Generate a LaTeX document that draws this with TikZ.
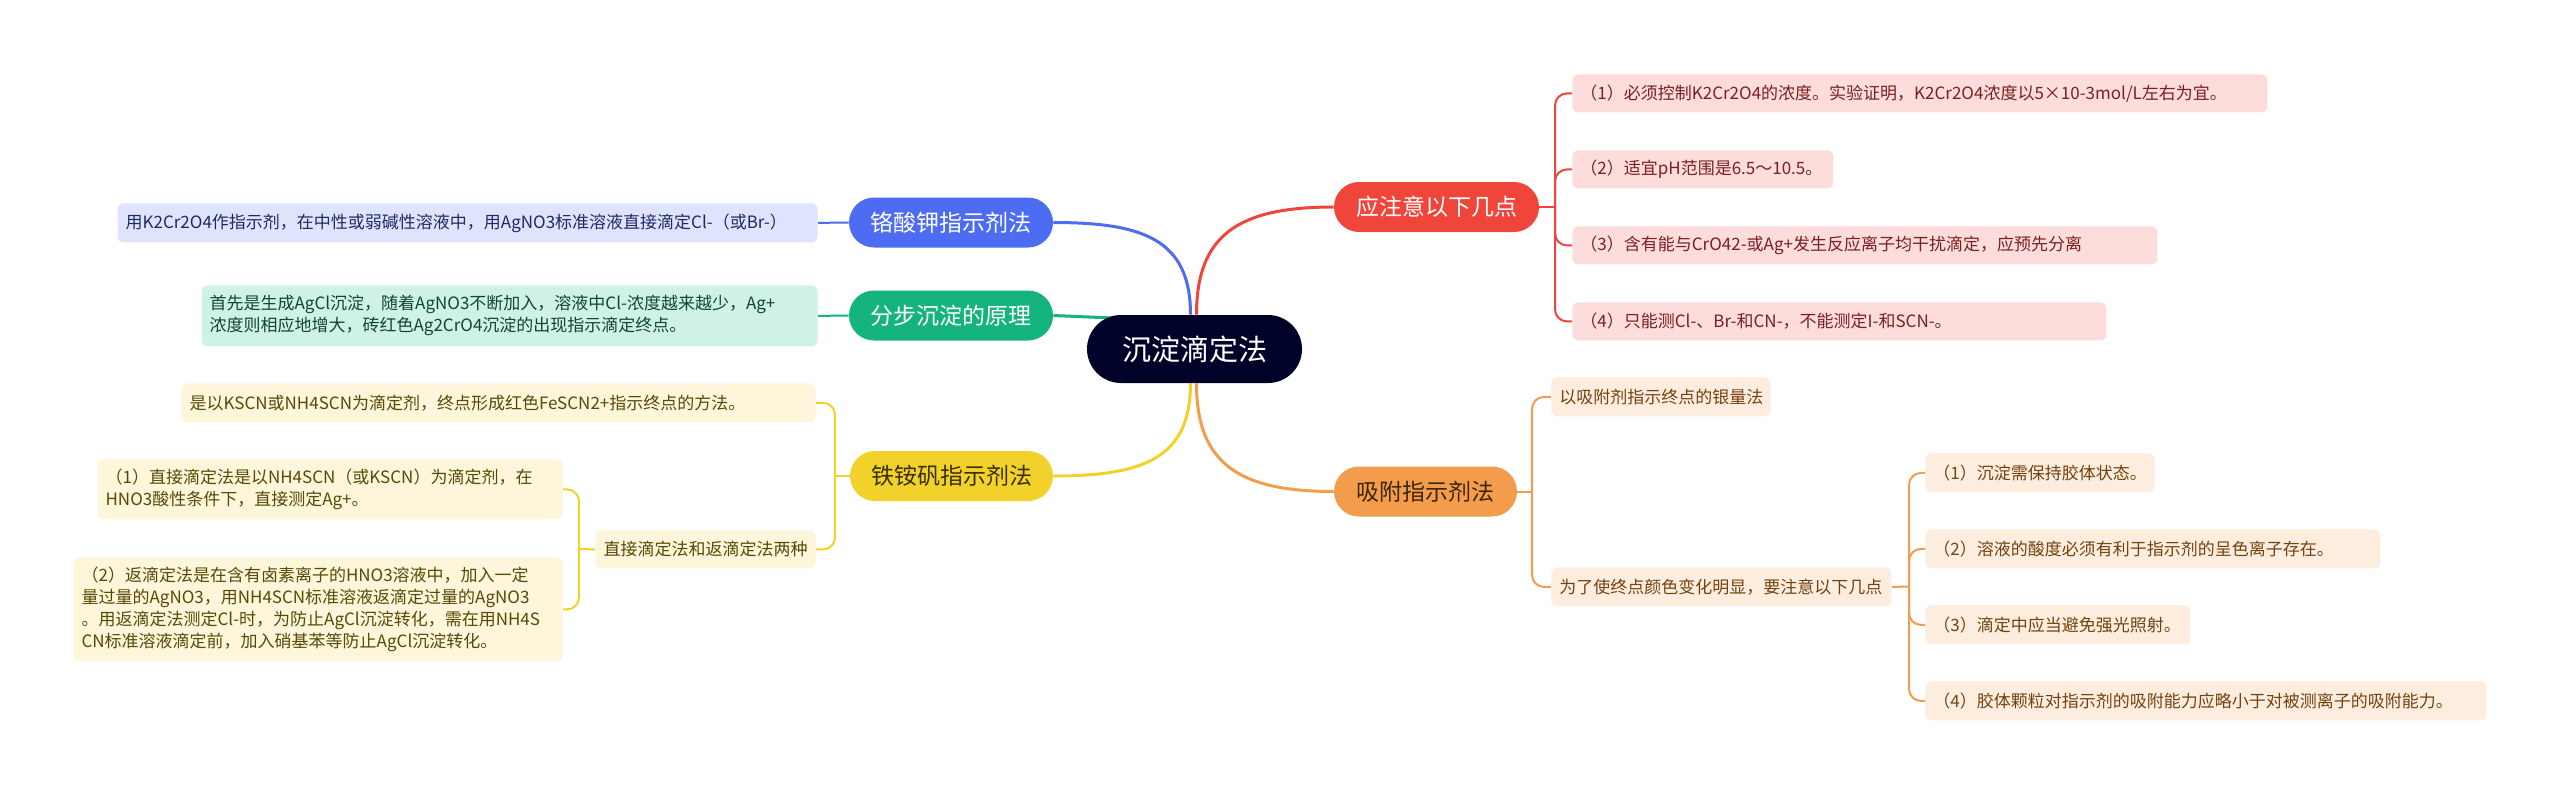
\documentclass[tikz,border=0pt]{standalone}
\usepackage{fontspec}
\newfontfamily\cjk{Noto Sans CJK SC}
\usetikzlibrary{backgrounds}
\definecolor{rootc}{HTML}{000229}
\definecolor{redc}{HTML}{F0453B}
\definecolor{redl}{HTML}{FDDCDC}
\definecolor{redt}{HTML}{7A2020}
\definecolor{orac}{HTML}{F39C4C}
\definecolor{oral}{HTML}{FDEDDF}
\definecolor{orat}{HTML}{74420F}
\definecolor{orat2}{HTML}{3F2508}
\definecolor{bluc}{HTML}{4D6CF2}
\definecolor{blul}{HTML}{DFE4FC}
\definecolor{blut}{HTML}{1E2A66}
\definecolor{grnc}{HTML}{14B47C}
\definecolor{grnl}{HTML}{D0F2E4}
\definecolor{grnt}{HTML}{0E4631}
\definecolor{yelc}{HTML}{F2D22A}
\definecolor{yell}{HTML}{FDF6DA}
\definecolor{yelt}{HTML}{5A4806}
\definecolor{yelt2}{HTML}{3A2F00}
\tikzset{
  rootbox/.style={rounded corners=17pt, fill=rootc, text=white, minimum width=107.5pt, minimum height=34pt, inner sep=0pt, font=\cjk\fontsize{14.5}{16}\selectfont},
  mainbox/.style={rounded corners=12.5pt, minimum height=25pt, inner sep=0pt, font=\cjk\fontsize{11.5}{13}\selectfont},
  leaf/.style={rounded corners=3pt, inner xsep=4pt, inner ysep=0pt, align=left, anchor=north west, font=\cjk\fontsize{8.5}{11}\selectfont},
  leafe/.style={leaf, anchor=north east},
  mainconn/.style={line width=1.5pt},
  leafconn/.style={line width=1pt, rounded corners=6pt},
}
\begin{document}
\begin{tikzpicture}[x=0.5pt, y=-0.5pt]
\useasboundingbox (0,0) rectangle (2560,793);
% root
\node[rootbox] (root) at (1194.5,349) {沉淀滴定法};
% main branches
\node[mainbox, fill=bluc, text=white, minimum width=102pt] (blue) at (951,222.5) {铬酸钾指示剂法};
\node[mainbox, fill=grnc, text=white, minimum width=102pt] (green) at (951,315.5) {分步沉淀的原理};
\node[mainbox, fill=yelc, text=yelt2, minimum width=101.5pt] (yellow) at (951.5,476) {铁铵矾指示剂法};
\node[mainbox, fill=redc, text=white, minimum width=102.5pt] (red) at (1436.5,207) {应注意以下几点};
\node[mainbox, fill=orac, text=orat2, minimum width=91.5pt] (orange) at (1425.5,491.5) {吸附指示剂法};
% red leaves
\node[leaf, fill=redl, text=redt, text width=339.5pt, minimum height=19pt] (r1) at (1572,74) {（1）必须控制K2Cr2O4的浓度。实验证明，K2Cr2O4浓度以5×10-3mol/L左右为宜。};
\node[leaf, fill=redl, text=redt, text width=122.5pt, minimum height=19pt] (r2) at (1572,150) {（2）适宜pH范围是6.5～10.5。};
\node[leaf, fill=redl, text=redt, text width=284.5pt, minimum height=19pt] (r3) at (1572,226) {（3）含有能与CrO42-或Ag+发生反应离子均干扰滴定，应预先分离};
\node[leaf, fill=redl, text=redt, text width=259pt, minimum height=19pt] (r4) at (1572,302) {（4）只能测Cl-、Br-和CN-，不能测定I-和SCN-。};
% orange leaves
\node[leaf, fill=oral, text=orat, text width=101.5pt, minimum height=19.5pt] (o1) at (1551,377) {以吸附剂指示终点的银量法};
\node[leaf, fill=oral, text=orat, text width=162pt, minimum height=19.5pt] (o2) at (1551,567) {为了使终点颜色变化明显，要注意以下几点};
\node[leaf, fill=oral, text=orat, text width=106.5pt, minimum height=19.5pt] (o21) at (1925,453) {（1）沉淀需保持胶体状态。};
\node[leaf, fill=oral, text=orat, text width=219.5pt, minimum height=19.5pt] (o22) at (1925,529) {（2）溶液的酸度必须有利于指示剂的呈色离子存在。};
\node[leaf, fill=oral, text=orat, text width=124.5pt, minimum height=19.5pt] (o23) at (1925,605) {（3）滴定中应当避免强光照射。};
\node[leaf, fill=oral, text=orat, text width=272.5pt, minimum height=19.5pt] (o24) at (1925,681) {（4）胶体颗粒对指示剂的吸附能力应略小于对被测离子的吸附能力。};
% blue / green leaves
\node[leafe, fill=blul, text=blut, text width=342pt, minimum height=19.5pt] (b1) at (818,203) {用K2Cr2O4作指示剂，在中性或弱碱性溶液中，用AgNO3标准溶液直接滴定Cl-（或Br-）};
\node[leafe, fill=grnl, text=grnt, text width=300pt, minimum height=30.5pt] (g1) at (818,285) {首先是生成AgCl沉淀，随着AgNO3不断加入，溶液中Cl-浓度越来越少，Ag+\\浓度则相应地增大，砖红色Ag2CrO4沉淀的出现指示滴定终点。};
% yellow leaves
\node[leafe, fill=yell, text=yelt, text width=309pt, minimum height=19.5pt] (y1) at (816,383) {是以KSCN或NH4SCN为滴定剂，终点形成红色FeSCN2+指示终点的方法。};
\node[leafe, fill=yell, text=yelt, text width=102pt, minimum height=19pt] (y2) at (816,530) {直接滴定法和返滴定法两种};
\node[leafe, fill=yell, text=yelt, text width=224.5pt, minimum height=30pt] (y21) at (563,459) {（1）直接滴定法是以NH4SCN（或KSCN）为滴定剂，在\\HNO3酸性条件下，直接测定Ag+。};
\node[leafe, fill=yell, text=yelt, text width=236.5pt, minimum height=52pt] (y22) at (563,557) {（2）返滴定法是在含有卤素离子的HNO3溶液中，加入一定\\量过量的AgNO3，用NH4SCN标准溶液返滴定过量的AgNO3\\。用返滴定法测定Cl-时，为防止AgCl沉淀转化，需在用NH4S\\CN标准溶液滴定前，加入硝基苯等防止AgCl沉淀转化。};
% junction coordinates
\coordinate (rj) at (1555,207);
\coordinate (oj) at (1532,491.5);
\coordinate (o2j) at (1909,586.5);
\coordinate (yj) at (835,476);
\coordinate (y2j) at (579,549);
\begin{scope}[on background layer]
% main connectors
\draw[mainconn, bluc] ([xshift=-2pt]root.north) .. controls +(0,-75) and +(90,0) .. (blue.east);
\draw[mainconn, grnc] (green.east) -- ([shift={(20pt,-2pt)}]root.north west);
\draw[mainconn, yelc] ([xshift=-2pt]root.south) .. controls +(0,75) and +(90,0) .. (yellow.east);
\draw[mainconn, redc] ([xshift=1pt]root.north) .. controls +(0,-80) and +(-95,0) .. (red.west);
\draw[mainconn, orac] ([xshift=1pt]root.south) .. controls +(0,80) and +(-95,0) .. (orange.west);
% red bracket
\draw[leafconn, redc] (red.east) -- (rj);
\draw[leafconn, redc] (rj) |- (r1.west);
\draw[leafconn, redc] (rj) |- (r2.west);
\draw[leafconn, redc] (rj) |- (r3.west);
\draw[leafconn, redc] (rj) |- (r4.west);
% orange bracket
\draw[leafconn, orac] (orange.east) -- (oj);
\draw[leafconn, orac] (oj) |- (o1.west);
\draw[leafconn, orac] (oj) |- (o2.west);
\draw[leafconn, orac] (o2.east) -- (o2j);
\draw[leafconn, orac] (o2j) |- (o21.west);
\draw[leafconn, orac] (o2j) |- (o22.west);
\draw[leafconn, orac] (o2j) |- (o23.west);
\draw[leafconn, orac] (o2j) |- (o24.west);
% blue, green
\draw[leafconn, bluc] (blue.west) -- (b1.east);
\draw[leafconn, grnc] (green.west) -- (g1.east);
% yellow bracket
\draw[leafconn, yelc] (yellow.west) -- (yj);
\draw[leafconn, yelc] (yj) |- (y1.east);
\draw[leafconn, yelc] (yj) |- (y2.east);
\draw[leafconn, yelc] (y2.west) -- (y2j);
\draw[leafconn, yelc] (y2j) |- (y21.east);
\draw[leafconn, yelc] (y2j) |- (y22.east);
\end{scope}
\end{tikzpicture}
\end{document}
